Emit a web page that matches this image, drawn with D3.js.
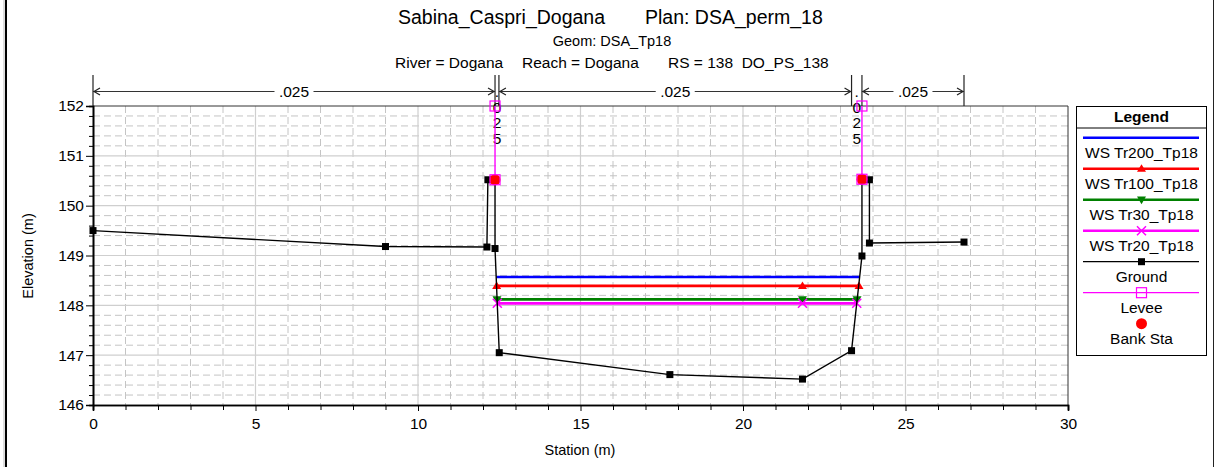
<!DOCTYPE html>
<html><head><meta charset="utf-8">
<script src="https://cdn.jsdelivr.net/npm/d3@7"></script>
<style>
body{margin:0;background:#fff}
svg text{font-family:"Liberation Sans",Arial,sans-serif;fill:#000;white-space:pre}
</style>
</head><body>
<svg id="c" width="1214" height="467"></svg>
<script>
// ---------- data ----------
const titleMain = "Sabina_Caspri_Dogana";
const titlePlan = "Plan: DSA_perm_18";
const titleGeom = "Geom: DSA_Tp18";
const titleRiver = "River = Dogana";
const titleReach = "Reach = Dogana";
const titleRS = "RS = 138  DO_PS_138";

const groundSta  = [0, 9, 12.12, 12.15, 12.37, 12.37, 12.5, 17.75, 21.83, 23.34, 23.66, 23.66, 23.89, 23.89, 26.8];
const groundElev = [149.5, 149.18, 149.17, 150.52, 150.52, 149.14, 147.05, 146.61, 146.52, 147.09, 148.99, 150.53, 150.52, 149.25, 149.27];

const wsNames    = ["WS Tr200_Tp18", "WS Tr100_Tp18", "WS Tr30_Tp18", "WS Tr20_Tp18"];
const wsElev     = [148.57, 148.39, 148.12, 148.04];
const wsLeftSta  = [12.41, 12.42, 12.43, 12.44];
const wsRightSta = [23.59, 23.57, 23.51, 23.50];
const wsMarkSta  = [[], [12.42, 21.83, 23.57], [12.43, 21.83, 23.51], [12.44, 21.83, 23.50]];
const wsColors   = ["#0000ff", "#ff0000", "#008000", "#ff00ff"];
const wsSymbols  = ["none", "triUp", "triDown", "cross"];

const leveeSta   = [12.37, 23.66];
const leveeTop   = [152, 152];
const leveeBase  = [150.52, 150.53];

const bankSta    = [12.37, 23.66];
const bankElev   = [150.52, 150.53];

const nBreaks    = [0, 12.37, 12.49, 23.34, 23.66, 26.8];
const nValues    = [".025", ".025", ".025", ".025", ".025"];

const xTicks     = [0, 5, 10, 15, 20, 25, 30];
const yTicks     = [146, 147, 148, 149, 150, 151, 152];

// ---------- layout ----------
const svg = d3.select("#c");
const L = 93, R = 1068, T = 106, B = 405;
const x = d3.scaleLinear().domain([0, 30]).range([L, R]);
const y = d3.scaleLinear().domain([146, 152]).range([B, T]);
const FS = "15.5px";

// outer frame bits
svg.append("line").attr("x1",4).attr("x2",4).attr("y1",0).attr("y2",467).attr("stroke","#bbb").attr("stroke-width",1);
svg.append("line").attr("x1",6).attr("x2",6).attr("y1",0).attr("y2",467).attr("stroke","#000").attr("stroke-width",2);
svg.append("line").attr("x1",1213.5).attr("x2",1213.5).attr("y1",0).attr("y2",467).attr("stroke","#222").attr("stroke-width",1);

// titles
const tg = svg.append("g");
tg.append("text").attr("x",398).attr("y",24).style("font-size","19.5px").text(titleMain);
tg.append("text").attr("x",645).attr("y",24).style("font-size","19.5px").text(titlePlan);
tg.append("text").attr("x",612).attr("y",46).attr("text-anchor","middle").style("font-size","14.5px").text(titleGeom);
tg.append("text").attr("x",395).attr("y",68).style("font-size",FS).text(titleRiver);
tg.append("text").attr("x",522).attr("y",68).style("font-size",FS).text(titleReach);
tg.append("text").attr("x",668).attr("y",68).attr("xml:space","preserve").style("font-size",FS).text(titleRS);

// grid
const grid = svg.append("g");
const minorX = d3.range(1, 30, 1).filter(v => v % 5 !== 0);
const minorY = d3.range(146.2, 152, 0.2).filter(v => Math.abs(v - Math.round(v)) > 0.01);
grid.selectAll(".mx").data(minorX).join("line")
  .attr("x1", d => x(d)).attr("x2", d => x(d)).attr("y1", T).attr("y2", B)
  .attr("stroke","#c4c4c4").attr("stroke-width",1).attr("stroke-dasharray","7,4");
grid.selectAll(".my").data(minorY).join("line")
  .attr("x1", L).attr("x2", R).attr("y1", d => y(d)).attr("y2", d => y(d))
  .attr("stroke","#c4c4c4").attr("stroke-width",1).attr("stroke-dasharray","7,4");
grid.selectAll(".Mx").data(xTicks.slice(1,-1)).join("line")
  .attr("x1", d => x(d)).attr("x2", d => x(d)).attr("y1", T).attr("y2", B)
  .attr("stroke","#cfcfcf").attr("stroke-width",1.2);
grid.selectAll(".My").data(yTicks.slice(1,-1)).join("line")
  .attr("x1", L).attr("x2", R).attr("y1", d => y(d)).attr("y2", d => y(d))
  .attr("stroke","#cfcfcf").attr("stroke-width",1.2);

// frame top/right
svg.append("line").attr("x1",L).attr("x2",R).attr("y1",T).attr("y2",T).attr("stroke","#333");
svg.append("line").attr("x1",R).attr("x2",R).attr("y1",T).attr("y2",B).attr("stroke","#333");

// axes
const xAxis = d3.axisBottom(x).tickValues(xTicks).tickSize(6).tickPadding(3).tickFormat(d3.format("d"));
const gx = svg.append("g").attr("transform",`translate(0,${B})`).call(xAxis);
const gxm = svg.append("g").attr("transform",`translate(0,${B})`)
  .call(d3.axisBottom(x).tickValues(minorX).tickSize(5).tickFormat(""));
const yAxis = d3.axisLeft(y).tickValues(yTicks).tickSize(7).tickPadding(2).tickFormat(d3.format("d"));
const gy = svg.append("g").attr("transform",`translate(${L},0)`).call(yAxis);
const gym = svg.append("g").attr("transform",`translate(${L},0)`)
  .call(d3.axisLeft(y).tickValues(minorY).tickSize(4).tickFormat(""));
[gx, gxm, gy, gym].forEach(g => {
  g.select(".domain").attr("stroke","#000").attr("stroke-width",1.6);
  g.selectAll(".tick line").attr("stroke","#000");
  g.selectAll("text").style("font-size",FS).style("font-family","'Liberation Sans',Arial,sans-serif").attr("fill","#000");
});
gx.selectAll(".tick text").attr("dy","0.95em");
svg.append("text").attr("x",580).attr("y",455).attr("text-anchor","middle").style("font-size","14.5px").text("Station (m)");
svg.append("text").attr("transform","translate(33,256) rotate(-90)").attr("text-anchor","middle").style("font-size","14.5px").text("Elevation (m)");

// n-value bar
const nb = svg.append("g");
const nY = 91.5;
nBreaks.forEach(s => {
  nb.append("line").attr("x1",x(s)).attr("x2",x(s)).attr("y1",75).attr("y2",T).attr("stroke","#222").attr("stroke-width",1.2);
});
function chevron(px, dir) { // dir=+1 points right
  nb.append("path").attr("d",`M${px-6*dir},${nY-3.5}L${px},${nY}L${px-6*dir},${nY+3.5}`)
    .attr("fill","none").attr("stroke","#222").attr("stroke-width",1.2);
}
nValues.forEach((v, i) => {
  const a = x(nBreaks[i]), b = x(nBreaks[i+1]), c = (a + b) / 2;
  if (b - a > 60) {
    const tw = 31;
    nb.append("line").attr("x1",a).attr("x2",c - tw/2 - 4).attr("y1",nY).attr("y2",nY).attr("stroke","#333");
    nb.append("line").attr("x1",c + tw/2 + 4).attr("x2",b).attr("y1",nY).attr("y2",nY).attr("stroke","#333");
    chevron(a + 1, -1);
    chevron(b - 1, 1);
    nb.append("text").attr("x",c).attr("y",nY + 5.5).attr("text-anchor","middle").style("font-size",FS).text(v);
  } else {
    v.split("").forEach((ch, k) => {
      nb.append("text").attr("x",c).attr("y",nY + 5.5 + k*15.5).attr("text-anchor","middle").style("font-size",FS).text(ch);
    });
  }
});

// water surfaces
const wsG = svg.append("g");
function marker(g, sym, cx, cy, color, size) {
  const s = size || 4.5;
  if (sym === "triUp") g.append("path").attr("d",`M${cx},${cy-s}L${cx+s},${cy+s*0.7}L${cx-s},${cy+s*0.7}Z`).attr("fill",color);
  else if (sym === "triDown") g.append("path").attr("d",`M${cx},${cy+s}L${cx+s},${cy-s*0.7}L${cx-s},${cy-s*0.7}Z`).attr("fill",color);
  else if (sym === "cross") g.append("path").attr("d",`M${cx-s},${cy-s}L${cx+s},${cy+s}M${cx-s},${cy+s}L${cx+s},${cy-s}`).attr("stroke",color).attr("stroke-width",1.5);
  else if (sym === "square") g.append("rect").attr("x",cx-3.5).attr("y",cy-3.5).attr("width",7).attr("height",7).attr("fill",color);
  else if (sym === "openSquare") g.append("rect").attr("x",cx-5).attr("y",cy-5).attr("width",10).attr("height",10).attr("fill","none").attr("stroke",color).attr("stroke-width",1.2);
  else if (sym === "dot") g.append("circle").attr("cx",cx).attr("cy",cy).attr("r",s).attr("fill",color);
}
wsElev.forEach((e, i) => {
  wsG.append("line").attr("x1",x(wsLeftSta[i])).attr("x2",x(wsRightSta[i]))
    .attr("y1",y(e)).attr("y2",y(e)).attr("stroke",wsColors[i]).attr("stroke-width",2.6);
  wsMarkSta[i].forEach(s => marker(wsG, wsSymbols[i], x(s), y(e), wsColors[i]));
});

// ground
const gG = svg.append("g");
const groundPts = groundSta.map((s, i) => [s, groundElev[i]]);
gG.append("path").attr("d", d3.line().x(d => x(d[0])).y(d => y(d[1]))(groundPts))
  .attr("fill","none").attr("stroke","#000").attr("stroke-width",1.4);
groundPts.forEach(p => marker(gG, "square", x(p[0]), y(p[1]), "#000"));

// levees
const lvG = svg.append("g");
leveeSta.forEach((s, i) => {
  lvG.append("line").attr("x1",x(s)).attr("x2",x(s)).attr("y1",y(leveeTop[i])).attr("y2",y(leveeBase[i]))
    .attr("stroke","#ff00ff").attr("stroke-width",1.4);
  marker(lvG, "openSquare", x(s), y(leveeTop[i]), "#ff00ff");
});
// bank stations
bankSta.forEach((s, i) => marker(lvG, "dot", x(s), y(bankElev[i]), "#ff0000", 5.5));
leveeSta.forEach((s, i) => marker(lvG, "openSquare", x(s), y(leveeBase[i]), "#ff00ff"));

// legend
const lg = svg.append("g");
const lx0 = 1076.5, lx1 = 1206.5, ly0 = 106.5, ly1 = 355.5, lcx = (lx0 + lx1) / 2;
lg.append("rect").attr("x",lx0).attr("y",ly0).attr("width",lx1-lx0).attr("height",ly1-ly0).attr("fill","#fff").attr("stroke","#000").attr("stroke-width",1);
lg.append("line").attr("x1",lx0).attr("x2",lx1).attr("y1",128).attr("y2",128).attr("stroke","#000");
lg.append("text").attr("x",lcx).attr("y",122).attr("text-anchor","middle").style("font-size",FS).style("font-weight","bold").text("Legend");
const legNames = wsNames.concat(["Ground", "Levee", "Bank Sta"]);
const legColors = wsColors.concat(["#000", "#ff00ff", "#ff0000"]);
const legSyms = wsSymbols.concat(["square", "openSquare", "dot"]);
const legWidths = [2.6, 2.6, 2.6, 2.6, 1.2, 1.2, 0];
legNames.forEach((n, i) => {
  const ly = 137.7 + i * 31;
  if (legWidths[i] > 0)
    lg.append("line").attr("x1",1083).attr("x2",1199).attr("y1",ly).attr("y2",ly).attr("stroke",legColors[i]).attr("stroke-width",legWidths[i]);
  if (legSyms[i] !== "none") marker(lg, legSyms[i], lcx, ly, legColors[i], legSyms[i] === "dot" ? 5.5 : 4.5);
  lg.append("text").attr("x",lcx).attr("y",ly + 20).attr("text-anchor","middle").style("font-size",FS).text(n);
});
</script>
</body></html>
